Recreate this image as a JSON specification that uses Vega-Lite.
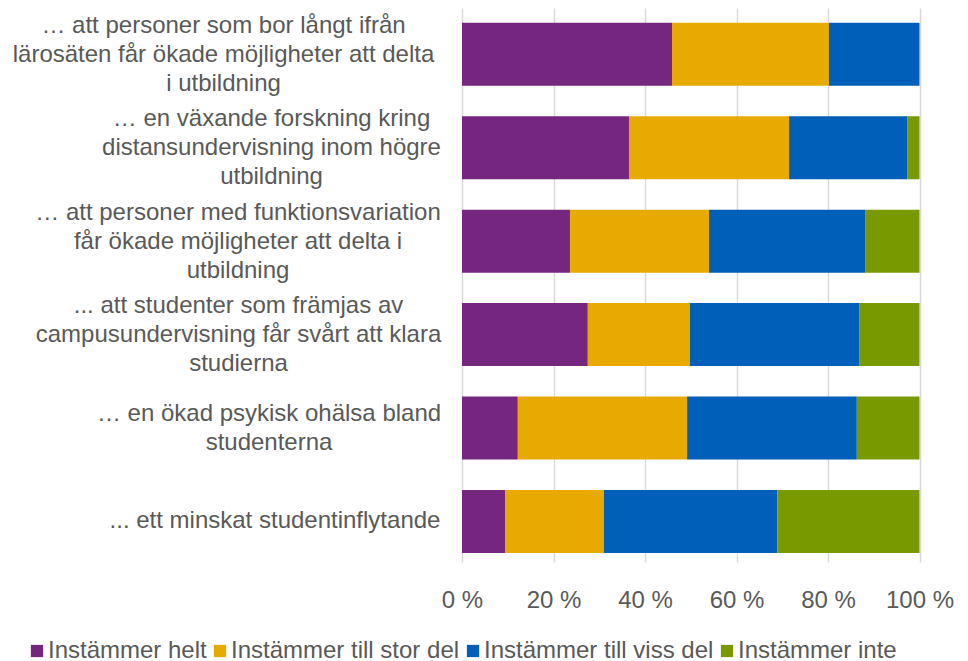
{
  "$schema": "https://vega.github.io/schema/vega-lite/v6.json",
  "width": 457.5,
  "height": 554,
  "autosize": {"type": "none"},
  "padding": {"left": 462, "top": 8, "right": 48.5, "bottom": 99},
  "background": "white",
  "config": {
    "view": {"stroke": null},
    "font": "Liberation Sans"
  },
  "data": {
    "values": [
      {"cat": "… att personer som bor långt ifrån|lärosäten får ökade möjligheter att delta|i utbildning", "resp": "Instämmer helt", "k": 1, "v": 45.9},
      {"cat": "… att personer som bor långt ifrån|lärosäten får ökade möjligheter att delta|i utbildning", "resp": "Instämmer till stor del", "k": 2, "v": 34.3},
      {"cat": "… att personer som bor långt ifrån|lärosäten får ökade möjligheter att delta|i utbildning", "resp": "Instämmer till viss del", "k": 3, "v": 19.8},
      {"cat": "… att personer som bor långt ifrån|lärosäten får ökade möjligheter att delta|i utbildning", "resp": "Instämmer inte", "k": 4, "v": 0},
      {"cat": "… en växande forskning kring|distansundervisning inom högre|utbildning", "resp": "Instämmer helt", "k": 1, "v": 36.5},
      {"cat": "… en växande forskning kring|distansundervisning inom högre|utbildning", "resp": "Instämmer till stor del", "k": 2, "v": 35.0},
      {"cat": "… en växande forskning kring|distansundervisning inom högre|utbildning", "resp": "Instämmer till viss del", "k": 3, "v": 25.8},
      {"cat": "… en växande forskning kring|distansundervisning inom högre|utbildning", "resp": "Instämmer inte", "k": 4, "v": 2.7},
      {"cat": "… att personer med funktionsvariation|får ökade möjligheter att delta i|utbildning", "resp": "Instämmer helt", "k": 1, "v": 23.6},
      {"cat": "… att personer med funktionsvariation|får ökade möjligheter att delta i|utbildning", "resp": "Instämmer till stor del", "k": 2, "v": 30.4},
      {"cat": "… att personer med funktionsvariation|får ökade möjligheter att delta i|utbildning", "resp": "Instämmer till viss del", "k": 3, "v": 34.1},
      {"cat": "… att personer med funktionsvariation|får ökade möjligheter att delta i|utbildning", "resp": "Instämmer inte", "k": 4, "v": 11.9},
      {"cat": "... att studenter som främjas av|campusundervisning får svårt att klara|studierna", "resp": "Instämmer helt", "k": 1, "v": 27.5},
      {"cat": "... att studenter som främjas av|campusundervisning får svårt att klara|studierna", "resp": "Instämmer till stor del", "k": 2, "v": 22.3},
      {"cat": "... att studenter som främjas av|campusundervisning får svårt att klara|studierna", "resp": "Instämmer till viss del", "k": 3, "v": 37.0},
      {"cat": "... att studenter som främjas av|campusundervisning får svårt att klara|studierna", "resp": "Instämmer inte", "k": 4, "v": 13.2},
      {"cat": "… en ökad psykisk ohälsa bland|studenterna", "resp": "Instämmer helt", "k": 1, "v": 12.2},
      {"cat": "… en ökad psykisk ohälsa bland|studenterna", "resp": "Instämmer till stor del", "k": 2, "v": 37.0},
      {"cat": "… en ökad psykisk ohälsa bland|studenterna", "resp": "Instämmer till viss del", "k": 3, "v": 37.1},
      {"cat": "… en ökad psykisk ohälsa bland|studenterna", "resp": "Instämmer inte", "k": 4, "v": 13.7},
      {"cat": "... ett minskat studentinflytande", "resp": "Instämmer helt", "k": 1, "v": 9.4},
      {"cat": "... ett minskat studentinflytande", "resp": "Instämmer till stor del", "k": 2, "v": 21.6},
      {"cat": "... ett minskat studentinflytande", "resp": "Instämmer till viss del", "k": 3, "v": 37.9},
      {"cat": "... ett minskat studentinflytande", "resp": "Instämmer inte", "k": 4, "v": 31.1}
    ]
  },
  "mark": {"type": "bar"},
  "encoding": {
    "y": {
      "field": "cat",
      "type": "nominal",
      "sort": null,
      "scale": {"paddingInner": 0.3255, "paddingOuter": 0.128, "align": 0.62},
      "axis": {
        "title": null,
        "domain": false,
        "ticks": false,
        "tickSize": 0,
        "grid": false,
        "labelExpr": "split(datum.label, '|')",
        "labelFont": "Liberation Sans",
        "labelFontSize": 24,
        "labelColor": "#595959",
        "labelLineHeight": 29,
        "labelLimit": 600,
        "labelAlign": "center",
        "labelBaseline": "middle",
        "labelOffset": {
          "condition": [
            {"test": "length(split(datum.value, '|')) == 3", "value": -28.5},
            {"test": "length(split(datum.value, '|')) == 2", "value": -14}
          ],
          "value": 0
        },
        "labelPadding": {
          "condition": [
            {"test": "indexof(datum.value, 'bor långt') >= 0", "value": 239},
            {"test": "indexof(datum.value, 'växande') >= 0", "value": 191},
            {"test": "indexof(datum.value, 'funktionsvariation') >= 0", "value": 224.5},
            {"test": "indexof(datum.value, 'främjas') >= 0", "value": 224},
            {"test": "indexof(datum.value, 'psykisk') >= 0", "value": 193.5}
          ],
          "value": 187.5
        }
      }
    },
    "x": {
      "field": "v",
      "type": "quantitative",
      "stack": "normalize",
      "scale": {"domain": [0, 1], "nice": false},
      "axis": {
        "title": null,
        "domain": false,
        "ticks": false,
        "values": [0, 0.2, 0.4, 0.6, 0.8, 1],
        "labelExpr": "format(datum.value * 100, 'd') + ' %'",
        "labelFont": "Liberation Sans",
        "labelFontSize": 24,
        "labelColor": "#595959",
        "labelPadding": 26,
        "labelFlush": false,
        "grid": true,
        "gridColor": "#d9d9d9",
        "gridWidth": 1.5
      }
    },
    "color": {
      "field": "resp",
      "type": "nominal",
      "scale": {
        "domain": ["Instämmer helt", "Instämmer till stor del", "Instämmer till viss del", "Instämmer inte"],
        "range": ["#75267F", "#E9AA00", "#005FB9", "#789A00"]
      },
      "legend": {
        "title": null,
        "orient": "none",
        "direction": "horizontal",
        "legendX": -437,
        "legendY": 631,
        "symbolType": "square",
        "symbolSize": 150,
        "symbolStrokeWidth": 0,
        "labelFont": "Liberation Sans",
        "labelFontSize": 24,
        "labelColor": "#595959",
        "labelOffset": -1,
        "columnPadding": 1,
        "padding": 0,
        "labelLimit": 400
      }
    },
    "order": {"field": "k", "type": "quantitative"}
  }
}
